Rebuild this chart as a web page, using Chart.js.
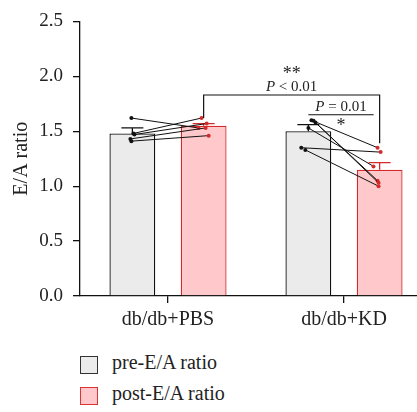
<!DOCTYPE html>
<html>
<head>
<meta charset="utf-8">
<script src="https://cdn.jsdelivr.net/npm/chart.js@4.4.1/dist/chart.umd.min.js"></script>
<style>
  html, body { margin: 0; padding: 0; background: #fff; overflow: hidden; width: 417px; height: 412px; }
  #wrap { position: relative; width: 432px; height: 412px; }
  #chart { position: absolute; left: 0; top: 0; }
  .leg { position: absolute; left: 80px; font: 20px "Liberation Serif", serif; color: #222; }
  .leg span.box { position: absolute; left: 0; top: 0; width: 16px; height: 16px; box-sizing: content-box; }
  .leg span.txt { position: absolute; left: 32px; top: -5px; white-space: nowrap; }
</style>
</head>
<body>
<div id="wrap">
  <canvas id="chart" width="432" height="340"></canvas>
  <div class="leg" style="top:356px"><span class="box" style="background:#ebebeb;border:1.5px solid #333"></span><span class="txt">pre-E/A ratio</span></div>
  <div class="leg" style="top:387px"><span class="box" style="background:#ffc9cc;border:1.5px solid #d33"></span><span class="txt">post-E/A ratio</span></div>
</div>
<script>
// groups and bar values (means)
const groups = ['db/db+PBS', 'db/db+KD'];
const preMean = [1.48, 1.50];
const postMean = [1.55, 1.15];
const preErr = [0.05, 0.06];
const postErr = [0.02, 0.065];
const yTicks = [0, 0.5, 1.0, 1.5, 2.0, 2.5];

// paired animals, pre -> post
const pbsPre = [1.62, 1.48, 1.47, 1.43, 1.41];
const pbsPost = [1.53, 1.62, 1.57, 1.53, 1.46];
const kdPre = [1.60, 1.35, 1.33, 1.595, 1.58, 1.53];
const kdPost = [1.35, 1.31, 1.00, 1.05, 1.03, 1.18];

// horizontal jitter of the dots (px from group centre), layout only
const pbsJit = [[-36, 30], [-34, 33], [-33, 38], [-37, 37], [-36, 40]];
const kdJit = [[-32, 33], [-42, 36], [-38, 34], [-30, 33], [-28, 34], [-35, 29]];

const serif = '"Liberation Serif", "Times New Roman", serif';
const RED = '#d42a2a';

const errorBars = {
  id: 'errorBars',
  beforeDatasetsDraw(chart) {
    const ctx = chart.ctx;
    const y = chart.scales.y;
    [[0, preMean, preErr, '#111'], [1, postMean, postErr, RED]].forEach(([ds, m, e, col]) => {
      chart.getDatasetMeta(ds).data.forEach((bar, i) => {
        const top = y.getPixelForValue(m[i] + e[i]);
        const base = y.getPixelForValue(m[i]);
        ctx.save();
        ctx.strokeStyle = col;
        ctx.lineWidth = 1.3;
        ctx.beginPath();
        ctx.moveTo(bar.x, base);
        ctx.lineTo(bar.x, top);
        ctx.moveTo(bar.x - 11, top);
        ctx.lineTo(bar.x + 11, top);
        ctx.stroke();
        ctx.restore();
      });
    });
  }
};

// paired pre/post lines with dots
const pairs = {
  id: 'pairs',
  afterDatasetsDraw(chart) {
    const ctx = chart.ctx;
    const x = chart.scales.x, y = chart.scales.y;
    const k = (x.getPixelForValue(1) - x.getPixelForValue(0)) / 173;
    [[0, pbsPre, pbsPost, pbsJit], [1, kdPre, kdPost, kdJit]].forEach(([g, pre, post, jit]) => {
      const cx = x.getPixelForValue(g);
      pre.forEach((v, i) => {
        const xa = cx + jit[i][0] * k, ya = y.getPixelForValue(v);
        const xb = cx + jit[i][1] * k, yb = y.getPixelForValue(post[i]);
        ctx.save();
        ctx.strokeStyle = '#111';
        ctx.lineWidth = 1;
        ctx.beginPath();
        ctx.moveTo(xa, ya);
        ctx.lineTo(xb, yb);
        ctx.stroke();
        ctx.fillStyle = '#111';
        ctx.beginPath(); ctx.arc(xa, ya, 2, 0, Math.PI * 2); ctx.fill();
        ctx.fillStyle = RED;
        ctx.beginPath(); ctx.arc(xb, yb, 2, 0, Math.PI * 2); ctx.fill();
        ctx.restore();
      });
    });
  }
};

function drawP(ctx, cx, cy, rest) {
  const f1 = 'italic 15px ' + serif, f2 = '15px ' + serif;
  ctx.font = f1;
  const w1 = ctx.measureText('P').width;
  ctx.font = f2;
  const w2 = ctx.measureText(rest).width;
  const left = cx - (w1 + w2) / 2;
  ctx.textAlign = 'left';
  ctx.font = f1;
  ctx.fillText('P', left, cy);
  ctx.font = f2;
  ctx.fillText(rest, left + w1, cy);
  ctx.textAlign = 'center';
}

const sigMarks = {
  id: 'sigMarks',
  afterDatasetsDraw(chart) {
    const ctx = chart.ctx;
    const y = chart.scales.y;
    const post = chart.getDatasetMeta(1).data;
    const pre = chart.getDatasetMeta(0).data;
    ctx.save();
    ctx.strokeStyle = '#111';
    ctx.fillStyle = '#222';
    ctx.lineWidth = 1.2;
    ctx.textBaseline = 'middle';

    // ** P < 0.01 between post bars
    const x1 = post[0].x, x2 = post[1].x;
    const yb = y.getPixelForValue(1.83);
    ctx.beginPath();
    ctx.moveTo(x1, y.getPixelForValue(1.62));
    ctx.lineTo(x1, yb);
    ctx.lineTo(x2, yb);
    ctx.lineTo(x2, y.getPixelForValue(1.39));
    ctx.stroke();
    const cx = (x1 + x2) / 2;
    ctx.textAlign = 'center';
    ctx.font = '18px ' + serif;
    ctx.fillText('**', cx, yb - 21);
    drawP(ctx, cx, yb - 8, ' < 0.01');

    // * P = 0.01 within KD
    const y2 = y.getPixelForValue(1.65);
    const a = pre[1].x, b = post[1].x - 6;
    ctx.beginPath();
    ctx.moveTo(a, y2);
    ctx.lineTo(b, y2);
    ctx.stroke();
    const cx2 = (a + b) / 2;
    drawP(ctx, cx2, y2 - 8, ' = 0.01');
    ctx.font = '18px ' + serif;
    ctx.textAlign = 'center';
    ctx.fillText('*', cx2, y2 + 12);
    ctx.restore();
  }
};

new Chart(document.getElementById('chart'), {
  type: 'bar',
  data: {
    labels: groups,
    datasets: [
      {
        label: 'pre-E/A ratio',
        data: preMean,
        backgroundColor: '#ebebeb',
        borderColor: '#111',
        borderWidth: 1.3,
        categoryPercentage: 0.81,
        barPercentage: 0.643
      },
      {
        label: 'post-E/A ratio',
        data: postMean,
        backgroundColor: '#ffc9cc',
        borderColor: RED,
        borderWidth: 1.3,
        categoryPercentage: 0.81,
        barPercentage: 0.643
      }
    ]
  },
  options: {
    responsive: false,
    animation: false,
    layout: { padding: { top: 19, left: 0, right: 0, bottom: 0 } },
    plugins: { legend: { display: false }, tooltip: { enabled: false } },
    scales: {
      x: {
        offset: true,
        grid: { display: true, drawOnChartArea: false, offset: false, tickLength: 7, color: '#111', lineWidth: 1.3 },
        border: { display: true, color: '#111', width: 1.3 },
        ticks: { color: '#222', font: { family: serif, size: 20 }, padding: 5 },
        afterFit(s) { s.height = 44; }
      },
      y: {
        min: 0,
        max: 2.5,
        afterBuildTicks(s) { s.ticks = yTicks.map(v => ({ value: v })); },
        grid: { display: true, drawOnChartArea: false, tickLength: 7, color: '#111', lineWidth: 1.3 },
        border: { display: true, color: '#111', width: 1.3 },
        ticks: { color: '#222', font: { family: serif, size: 19 }, padding: 10, callback: v => v.toFixed(1) },
        title: { display: true, text: 'E/A ratio', color: '#222', font: { family: serif, size: 20 }, padding: { top: 10, bottom: 0 } },
        afterFit(s) { s.width = 80; }
      }
    }
  },
  plugins: [errorBars, pairs, sigMarks]
});
</script>
</body>
</html>
